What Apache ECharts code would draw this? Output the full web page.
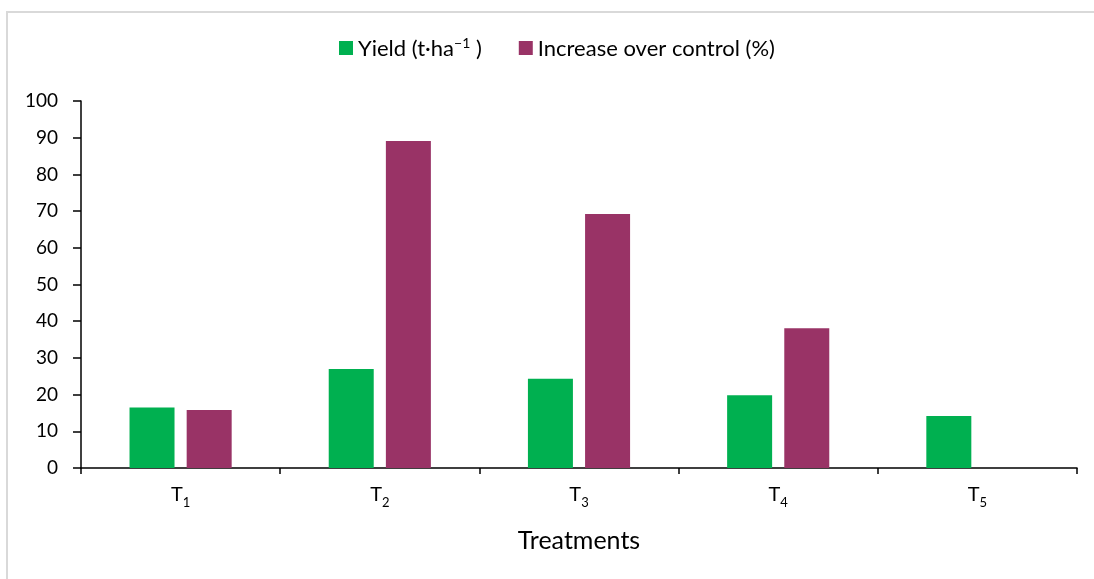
<!DOCTYPE html>
<html><head><meta charset="utf-8">
<script src="https://cdn.jsdelivr.net/npm/echarts@6/dist/echarts.min.js"></script>
<style>html,body{margin:0;padding:0;background:#fff}#c{width:1094px;height:579px}</style>
</head><body><div id="c"></div>
<script>
const categories = ['T\u2081','T\u2082','T\u2083','T\u2084','T\u2085'];
const yieldVals = [16.5, 27.0, 24.3, 19.8, 14.2];
const increaseVals = [15.8, 89.1, 69.2, 38.1, 0];
const yTicks = {min: 0, max: 100, interval: 10};
const seriesNames = ['Yield (t\u00b7ha\u207b\u00b9 )', 'Increase over control (%)'];
const FONT = 'Lato, "Open Sans", sans-serif';
const subMap = {'\u2081':'1','\u2082':'2','\u2083':'3','\u2084':'4','\u2085':'5'};
const chart = echarts.init(document.getElementById('c'));
chart.setOption({
  animation: false,
  graphic: [{type:'rect', shape:{x:7,y:12,width:1100,height:570}, style:{fill:'none',stroke:'#d9d9d9',lineWidth:2}}],
  legend: {
    top: 31, left: 334, itemWidth: 14, itemHeight: 14, itemGap: 37,
    icon: 'rect',
    formatter: function (name) {
      if (name === seriesNames[0]) return '{n|Yield (t\u00b7ha}{p|\u22121}{n| )}';
      return '{n|' + name + '}';
    },
    textStyle: {fontFamily: FONT, fontSize: 22, color: '#000',
      rich: {
        n: {fontFamily: FONT, fontSize: 22, lineHeight: 24, color: '#000', verticalAlign: 'bottom'},
        p: {fontFamily: FONT, fontSize: 14, lineHeight: 14, color: '#000', verticalAlign: 'top'}
      }},
    data: seriesNames
  },
  grid: {left: 81, right: 17, top: 101, bottom: 111},
  xAxis: {
    type: 'category', data: categories,
    name: 'Treatments', nameLocation: 'middle', nameGap: 60,
    nameTextStyle: {fontFamily: FONT, fontSize: 25, color: '#000'},
    axisLine: {lineStyle: {color: '#000', width: 1.5}},
    axisTick: {show: true, length: 6, lineStyle: {color: '#000', width: 1.5}},
    axisLabel: {
      margin: 21,
      formatter: function (v) { return '{t|T}{s|' + (subMap[v.charAt(1)] || '') + '}'; },
      rich: {
        t: {fontFamily: FONT, fontSize: 20, lineHeight: 20, color: '#000', verticalAlign: 'bottom', padding: [0, 0, 4, 0]},
        s: {fontFamily: FONT, fontSize: 13, lineHeight: 13, color: '#000', verticalAlign: 'bottom'}
      }
    }
  },
  yAxis: {
    type: 'value', min: yTicks.min, max: yTicks.max, interval: yTicks.interval,
    splitLine: {show: false},
    axisLine: {show: true, lineStyle: {color: '#000', width: 1.5}},
    axisTick: {show: true, length: 8, lineStyle: {color: '#000', width: 1.5}},
    axisLabel: {fontFamily: FONT, fontSize: 19, color: '#000', margin: 23}
  },
  series: [
    {name: seriesNames[0], type: 'bar', data: yieldVals, barWidth: 45, barGap: '27%', itemStyle: {color: '#00B050'}},
    {name: seriesNames[1], type: 'bar', data: increaseVals, barWidth: 45, itemStyle: {color: '#993366'}}
  ]
});
</script></body></html>
